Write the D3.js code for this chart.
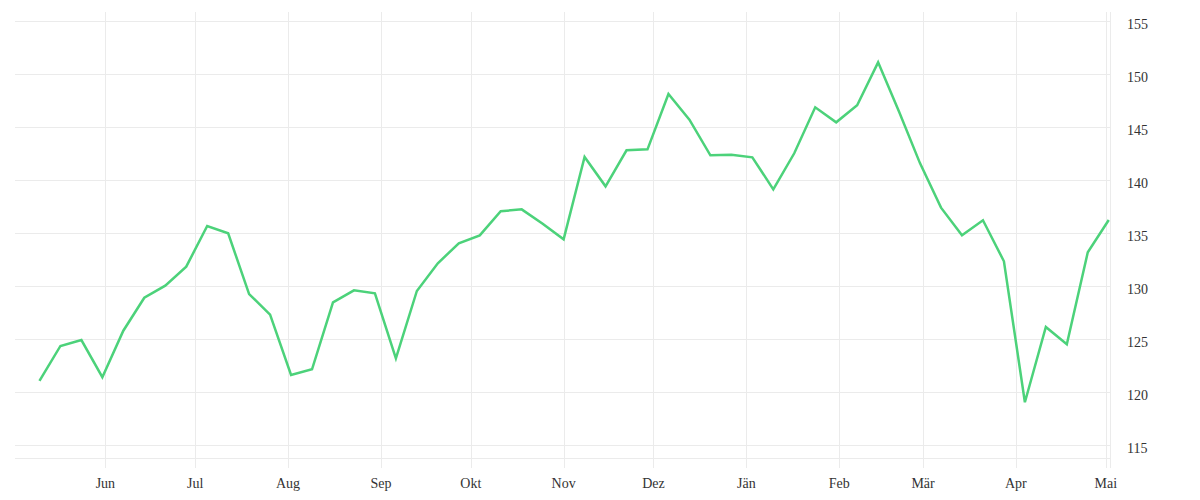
<!DOCTYPE html>
<html>
<head>
<meta charset="utf-8">
<script src="https://cdn.jsdelivr.net/npm/d3@7"></script>
<style>
  html, body { margin: 0; padding: 0; background: #ffffff; }
  svg { display: block; }
  .tick-label { font-family: "Liberation Serif", "DejaVu Serif", serif; font-size: 14px; fill: #333333; }
</style>
</head>
<body>
<svg id="chart" width="1200" height="500"></svg>
<script>
// ---- data ----
const dates = [
  "2022-05-10","2022-05-17","2022-05-24","2022-05-31",
  "2022-06-07","2022-06-14","2022-06-21","2022-06-28",
  "2022-07-05","2022-07-12","2022-07-19","2022-07-26",
  "2022-08-02","2022-08-09","2022-08-16","2022-08-23","2022-08-30",
  "2022-09-06","2022-09-13","2022-09-20","2022-09-27",
  "2022-10-04","2022-10-11","2022-10-18","2022-10-25",
  "2022-11-01","2022-11-08","2022-11-15","2022-11-22","2022-11-29",
  "2022-12-06","2022-12-13","2022-12-20","2022-12-27",
  "2023-01-03","2023-01-10","2023-01-17","2023-01-24","2023-01-31",
  "2023-02-07","2023-02-14","2023-02-21","2023-02-28",
  "2023-03-07","2023-03-14","2023-03-21","2023-03-28",
  "2023-04-04","2023-04-11","2023-04-18","2023-04-25",
  "2023-05-02"
];
const values = [
  121.07, 124.37, 124.93, 121.42, 125.81, 128.92, 130.06, 131.85, 135.69, 135.0,
  129.27, 127.32, 121.63, 122.17, 128.49, 129.62, 129.34, 123.21, 129.56, 132.17,
  134.06, 134.81, 137.08, 137.26, 135.9, 134.43, 142.2, 139.43, 142.83, 142.92,
  148.14, 145.72, 142.36, 142.42, 142.17, 139.15, 142.55, 146.89, 145.47, 147.08,
  151.13, 146.47, 141.6, 137.42, 134.81, 136.23, 132.36, 119.06, 126.16, 124.53,
  133.21, 136.25
];
const monthTicks = [
  "2022-06-01","2022-07-01","2022-08-01","2022-09-01","2022-10-01","2022-11-01",
  "2022-12-01","2023-01-01","2023-02-01","2023-03-01","2023-04-01","2023-05-01"
];
const monthLabels = ["Jun","Jul","Aug","Sep","Okt","Nov","Dez","Jän","Feb","Mär","Apr","Mai"];
const yTicks = [115, 120, 125, 130, 135, 140, 145, 150, 155];
const xDomain = ["2022-05-01T20:00", "2023-05-02T10:00"];
const yDomain = [113.8, 155.88];

(function () {
  // ---- layout ----
  const plotLeft = 15, plotRight = 1110, plotTop = 12, plotBottom = 458;
  const gridColor = "#ebebeb";
  const lineColor = "#4cd27a";

  const parseDay = d3.timeParse("%Y-%m-%d");
  const parseDT = d3.timeParse("%Y-%m-%dT%H:%M");
  const data = dates.map((d, i) => ({ date: parseDay(d), value: values[i] }));

  const x = d3.scaleTime()
    .domain(xDomain.map(parseDT))
    .range([plotLeft, plotRight]);
  const y = d3.scaleLinear()
    .domain(yDomain)
    .range([plotBottom, plotTop]);

  const svg = d3.select("#chart");
  const grid = svg.append("g").attr("shape-rendering", "crispEdges");

  // horizontal gridlines
  grid.selectAll("line.h").data(yTicks).join("line")
    .attr("class", "h")
    .attr("x1", plotLeft).attr("x2", plotRight)
    .attr("y1", d => Math.round(y(d)) + 0.5).attr("y2", d => Math.round(y(d)) + 0.5)
    .attr("stroke", gridColor).attr("stroke-width", 1);

  // bottom line
  grid.append("line")
    .attr("x1", plotLeft).attr("x2", plotRight)
    .attr("y1", plotBottom + 0.5).attr("y2", plotBottom + 0.5)
    .attr("stroke", gridColor).attr("stroke-width", 1);

  // vertical month gridlines
  const mt = monthTicks.map(parseDay);
  grid.selectAll("line.v").data(mt).join("line")
    .attr("class", "v")
    .attr("x1", d => Math.round(x(d)) + 0.5).attr("x2", d => Math.round(x(d)) + 0.5)
    .attr("y1", plotTop).attr("y2", plotBottom + 10)
    .attr("stroke", gridColor).attr("stroke-width", 1);

  // right axis line
  grid.append("line")
    .attr("x1", plotRight + 0.5).attr("x2", plotRight + 0.5)
    .attr("y1", plotTop).attr("y2", plotBottom + 10)
    .attr("stroke", gridColor).attr("stroke-width", 1);

  // x labels
  svg.append("g").selectAll("text").data(mt).join("text")
    .attr("class", "tick-label")
    .attr("x", d => x(d))
    .attr("y", 488)
    .attr("text-anchor", "middle")
    .text((d, i) => monthLabels[i]);

  // y labels
  svg.append("g").selectAll("text").data(yTicks).join("text")
    .attr("class", "tick-label")
    .attr("x", 1127)
    .attr("y", d => y(d) + 7.7)
    .attr("text-anchor", "start")
    .text(d => d);

  // line
  const line = d3.line()
    .x(d => x(d.date))
    .y(d => y(d.value));

  svg.append("path")
    .datum(data)
    .attr("d", line)
    .attr("fill", "none")
    .attr("stroke", lineColor)
    .attr("stroke-width", 2.5)
    .attr("stroke-linejoin", "miter")
    .attr("stroke-linecap", "butt");
})();
</script>
</body>
</html>
